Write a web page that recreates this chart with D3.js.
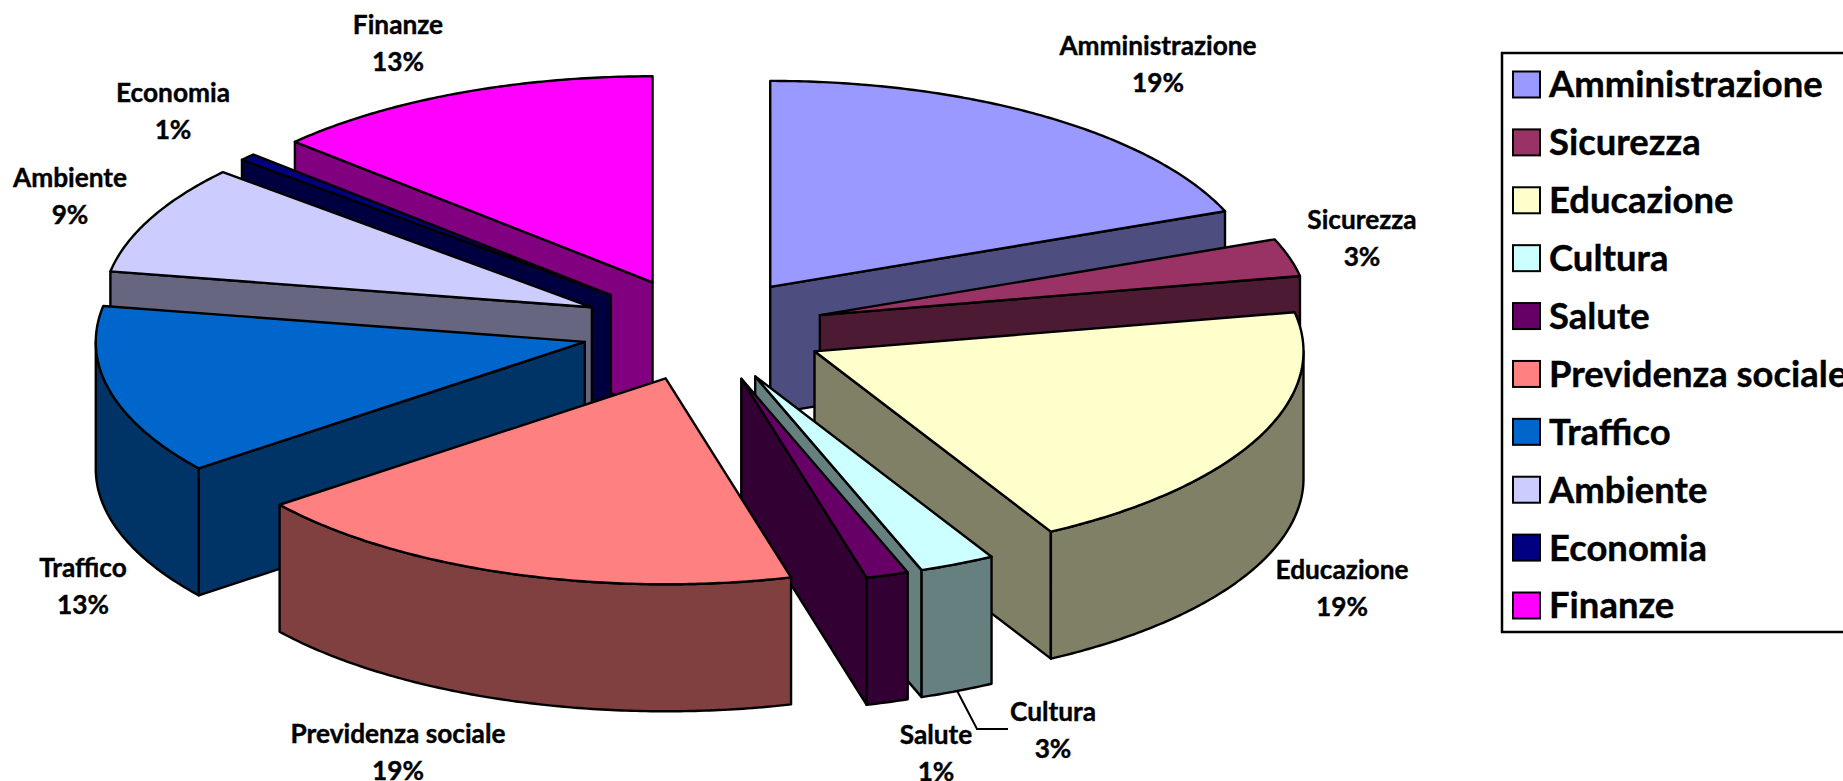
<!DOCTYPE html>
<html>
<head>
<meta charset="utf-8">
<script src="https://cdn.jsdelivr.net/npm/d3@7"></script>
<style>
  html, body { margin: 0; padding: 0; background: #fff; overflow: hidden; }
  text { font-family: Lato, "Open Sans", sans-serif; font-weight: 700; fill: #000; stroke: #000; stroke-width: 0.4px; }
</style>
</head>
<body>
<div id="chart"></div>
<script>
// data
const categories = ["Amministrazione", "Sicurezza", "Educazione", "Cultura", "Salute",
  "Previdenza sociale", "Traffico", "Ambiente", "Economia", "Finanze"];
const shares = [19.0, 2.95, 20.0, 2.5, 1.4, 18.6, 13.3, 8.6, 0.55, 13.05];
const percentLabels = ["19%", "3%", "19%", "3%", "1%", "19%", "13%", "9%", "1%", "13%"];
const topColors = ["#9999FF", "#993366", "#FFFFCC", "#CCFFFF", "#660066",
  "#FF8080", "#0066CC", "#CCCCFF", "#000080", "#FF00FF"];
const wallColors = ["#4D4D80", "#4D1A33", "#808066", "#668080", "#330033",
  "#804040", "#003366", "#666680", "#000040", "#800080"];
// back to front
const drawOrder = ["Finanze", "Economia", "Ambiente", "Traffico", "Amministrazione",
  "Sicurezza", "Educazione", "Cultura", "Salute", "Previdenza sociale"];
// label centres, name line then percent line
const labelX = [1158, 1362, 1342, 1053, 936, 398, 83, 70, 173, 398];
const labelY = [46, 220, 570, 712, 735, 734, 568, 178, 93, 25];
const labelGap = 37;

// set the dimensions
const width = 1843, height = 781;
const cx = 703, cy = 329.5, rx = 489, ry = 206, depth = 127;
const explode = 0.25;
const explodeLean = 0.015; // front slices sit a little further right than the back ones

const svg = d3.select("#chart").append("svg")
  .attr("width", width)
  .attr("height", height)
  .style("display", "block");

const px = d3.scaleLinear().domain([-1, 1]).range([cx - rx, cx + rx]);
const py = d3.scaleLinear().domain([-1, 1]).range([cy - ry, cy + ry]);

const slices = d3.pie().sort(null).value(d => d)(shares).map((s, i) => ({
  name: categories[i],
  top: topColors[i],
  wall: wallColors[i],
  start: s.startAngle,
  end: s.endAngle,
  mid: (s.startAngle + s.endAngle) / 2
}));

// project a point of the tilted pie, r = 0 is the slice tip
function point(s, a, r, z) {
  return [
    px(explode * (Math.sin(s.mid) - explodeLean * Math.cos(s.mid)) + r * Math.sin(a)),
    py(-explode * Math.cos(s.mid) - r * Math.cos(a)) + z
  ];
}

function rim(s, a0, a1, z) {
  const n = Math.max(2, Math.ceil((a1 - a0) / 0.01));
  return d3.range(n + 1).map(k => point(s, a0 + (a1 - a0) * k / n, 1, z));
}

const line = d3.line();
const closed = pts => line(pts) + "Z";

const pieGroup = svg.append("g")
  .attr("stroke", "#000")
  .attr("stroke-width", 2.4)
  .attr("stroke-linejoin", "round");

drawOrder.forEach(name => {
  const s = slices.find(d => d.name === name);
  const g = pieGroup.append("g");

  function cutWall(a) {
    g.append("path")
      .attr("fill", s.wall)
      .attr("d", closed([point(s, a, 0, 0), point(s, a, 1, 0), point(s, a, 1, depth), point(s, a, 0, depth)]));
  }

  // cut faces only show when they turn towards the viewer
  if (Math.sin(s.start) < 0) cutWall(s.start);
  if (Math.sin(s.end) > 0) cutWall(s.end);

  // rounded outer wall, front half only
  const a0 = Math.max(s.start, Math.PI / 2);
  const a1 = Math.min(s.end, Math.PI * 1.5);
  if (a1 > a0) {
    g.append("path")
      .attr("fill", s.wall)
      .attr("d", closed(rim(s, a0, a1, 0).concat(rim(s, a0, a1, depth).reverse())));
  }

  g.append("path")
    .attr("fill", s.top)
    .attr("d", closed([point(s, s.start, 0, 0)].concat(rim(s, s.start, s.end, 0))));
});

// leader line of the Cultura label
const cultura = slices.find(d => d.name === "Cultura");
svg.append("path")
  .attr("fill", "none")
  .attr("stroke", "#000")
  .attr("stroke-width", 2)
  .attr("d", line([point(cultura, cultura.mid, 1, depth), [977, 729], [1008, 729]]));

// data labels
const labelScale = 1.01;
const labels = svg.append("g").attr("font-size", 26).attr("text-anchor", "middle");
categories.forEach((name, i) => {
  const g = labels.append("g")
    .attr("transform", `translate(${labelX[i]},0) scale(${labelScale},1)`);
  g.append("text").attr("y", labelY[i]).attr("dy", "0.35em").text(name);
  g.append("text").attr("y", labelY[i] + labelGap).attr("dy", "0.35em").text(percentLabels[i]);
});

// legend, the frame runs off the right side of the picture
const legendX = 1502, legendTop = 53, legendBottom = 632;
const legendRow = d3.scalePoint().domain(categories).range([84.5, 605.5]);
svg.append("rect")
  .attr("x", legendX).attr("y", legendTop)
  .attr("width", width - legendX + 20).attr("height", legendBottom - legendTop)
  .attr("fill", "#fff").attr("stroke", "#000").attr("stroke-width", 2.5);

const legendItems = svg.append("g").selectAll("g")
  .data(slices)
  .join("g")
  .attr("transform", d => `translate(1513,${legendRow(d.name)})`);

legendItems.append("rect")
  .attr("y", -13).attr("width", 27).attr("height", 26)
  .attr("fill", d => d.top).attr("stroke", "#000").attr("stroke-width", 2);

legendItems.append("text")
  .attr("transform", "translate(36,0) scale(0.985,1)")
  .attr("dy", "0.35em")
  .attr("font-size", 37)
  .text(d => d.name);
</script>
</body>
</html>
